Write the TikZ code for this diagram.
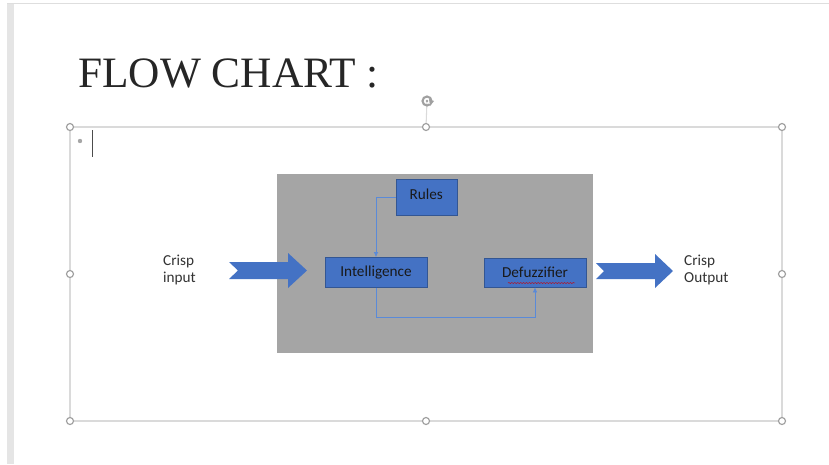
\documentclass[tikz,border=0pt]{standalone}
\usepackage{fontspec}
\newfontfamily\calibri{Carlito}
\newfontfamily\titlefont{Liberation Serif}
\usetikzlibrary{arrows.meta,decorations.pathmorphing}

\definecolor{boxblue}{HTML}{4472C4}
\definecolor{linkblue}{HTML}{5A8AD8}
\definecolor{panelgrey}{HTML}{A5A5A5}
\definecolor{framegrey}{HTML}{DADADA}
\definecolor{handlegrey}{HTML}{A0A0A0}

\tikzset{
	block/.style={fill=boxblue, draw=boxblue!75!black, line width=0.3pt, inner sep=0pt,
		font=\calibri\fontsize{13}{15}\selectfont, text=black!90},
	conn/.style={draw=linkblue, line width=0.75pt},
	handle/.style={draw=handlegrey, fill=white, line width=1pt},
	sidetext/.style={font=\calibri\fontsize{13}{15.3}\selectfont, align=left,
		anchor=west, inner sep=0pt, text=black!80},
	chevron/.style={fill=boxblue}
}

\begin{document}
\begin{tikzpicture}[x=0.03cm, y=-0.03cm]

	\fill [white] (0,0) rectangle (829,464);
	\useasboundingbox (0,0) rectangle (829,464);

	% slide edge
	\fill [black!10] (7,3) rectangle (14,464);
	\draw [black!13, line width=0.8pt] (7,3) -- (829,3);

	% title
	\node [anchor=base west, inner sep=0pt, font=\titlefont\fontsize{37}{40}\selectfont, text=black!85] (title) at (78,87) {FLOW CHART :};

	% selection frame
	\coordinate (NW) at (70,127);
	\coordinate (N) at (426,127);
	\coordinate (NE) at (782,127);
	\coordinate (W) at (70,274);
	\coordinate (E) at (782,274);
	\coordinate (SW) at (70,421);
	\coordinate (S) at (426,421);
	\coordinate (SE) at (782,421);
	\coordinate (rot) at (427,101);

	\draw [framegrey, line width=0.9pt] (NW) rectangle (SE);
	\draw [framegrey, line width=0.9pt] (N) -- (rot);
	\draw [handlegrey, line width=1.8pt] (rot) circle (4.5);
	\fill [white] (rot) ++(2,3) rectangle ++(6,-4);
	\fill [handlegrey] (429,99) -- (434,101) -- (430,106) -- cycle;
	\fill [handlegrey] (rot) circle (1.3);

	\foreach \point in {NW,N,NE,W,E,SW,S,SE} \draw [handle] (\point) circle (3.5);

	% cursor
	\fill [black!35] (80,141) circle (2.2);
	\draw [black!70, line width=0.8pt] (92,130) -- (92,157);

	% panel and blocks
	\node [fill=panelgrey, minimum width=94.8mm, minimum height=53.7mm, inner sep=0pt] (panel) at (434.7,263.5) {};

	\node [block, minimum width=18.3mm, minimum height=10.8mm] (rules) at (426.2,197) {\raisebox{1.5mm}{Rules}};
	\node [block, minimum width=30.6mm, minimum height=9mm] (intel) at (376,272.5) {Intelligence};
	\node [block, minimum width=30.6mm, minimum height=8.7mm] (defuz) at (535,272.5) {Defuzzifier};

	\draw [red!80!black, line width=0.4pt, decorate, decoration={snake, amplitude=0.4pt, segment length=2.5pt}] (508,283) -- (575,283);

	\draw [conn, -{Latex[length=4.5pt,width=4pt]}] (rules.west) -| (intel.north);
	\draw [conn, -{Latex[length=4.5pt,width=4pt]}] (intel.south) -- ++(0,29.5) -| (defuz.south);

	% crisp input / output
	\node [sidetext] (cin) at (163,270) {Crisp\\input};
	\node [sidetext] (cout) at (684,270) {Crisp\\Output};

	\fill [chevron] (229,262) -- (288,262) -- (288,253) -- (307,270.5) -- (288,288) -- (288,279) -- (229,279) -- (238,270.5) -- cycle;
	\fill [chevron] (596,263) -- (655,263) -- (655,254) -- (673,271) -- (655,288) -- (655,279) -- (596,279) -- (604,271) -- cycle;

\end{tikzpicture}
\end{document}
